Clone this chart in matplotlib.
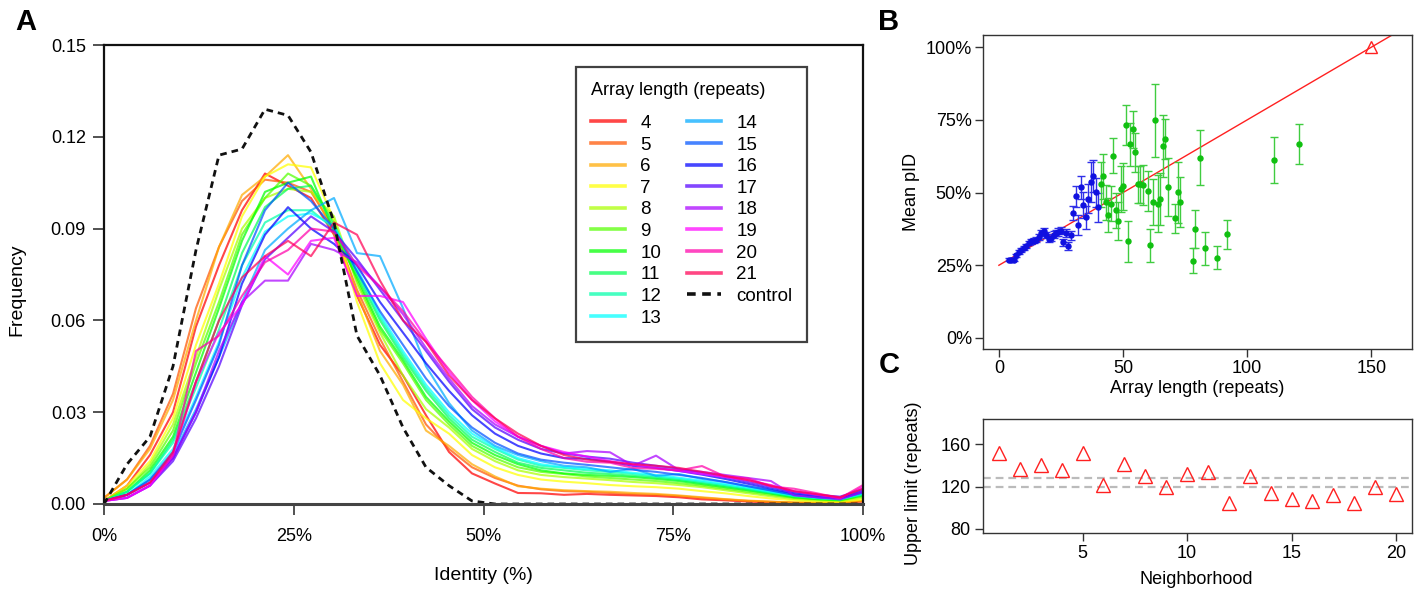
import numpy as np
import matplotlib
matplotlib.use('Agg')
import matplotlib.pyplot as plt
from matplotlib.ticker import FuncFormatter

plt.rcParams['font.family'] = ['Liberation Sans', 'DejaVu Sans']

# ---------------- Panel A data ----------------
identity_bins = np.linspace(0, 100, 34)  # bin positions (% identity)
array_lengths = [4, 5, 6, 7, 8, 9, 10, 11, 12, 13, 14, 15, 16, 17, 18, 19, 20, 21]

f4 = [0.001, 0.006, 0.016, 0.030, 0.058, 0.078, 0.096, 0.108, 0.104, 0.100, 0.088, 0.068, 0.052, 0.042, 0.029, 0.017, 0.010, 0.0067, 0.0036, 0.0035, 0.0030, 0.0033, 0.0030, 0.0028, 0.0026, 0.0022, 0.0015, 0.0012, 0.0008, 0.0005, 0.0003, 0.0003, 0.0004, 0.0008]
f5 = [0.002, 0.008, 0.019, 0.036, 0.064, 0.084, 0.099, 0.106, 0.105, 0.102, 0.090, 0.070, 0.054, 0.040, 0.026, 0.018, 0.012, 0.0085, 0.0060, 0.0048, 0.0042, 0.0040, 0.0036, 0.0032, 0.0030, 0.0026, 0.0020, 0.0015, 0.0010, 0.0007, 0.0005, 0.0004, 0.0004, 0.0010]
f6 = [0.002, 0.008, 0.018, 0.034, 0.060, 0.084, 0.101, 0.107, 0.114, 0.103, 0.089, 0.069, 0.050, 0.039, 0.024, 0.019, 0.013, 0.009, 0.0058, 0.0050, 0.0045, 0.0042, 0.0040, 0.0036, 0.0033, 0.0028, 0.0022, 0.0016, 0.0011, 0.0008, 0.0005, 0.0004, 0.0005, 0.0010]
f7 = [0.001, 0.006, 0.014, 0.028, 0.052, 0.072, 0.094, 0.107, 0.111, 0.110, 0.093, 0.066, 0.046, 0.034, 0.028, 0.023, 0.016, 0.012, 0.0095, 0.0080, 0.0073, 0.0068, 0.0062, 0.0058, 0.0055, 0.0050, 0.0042, 0.0035, 0.0026, 0.0018, 0.0012, 0.0008, 0.0007, 0.0015]
f8 = [0.001, 0.005, 0.013, 0.026, 0.048, 0.070, 0.090, 0.100, 0.103, 0.102, 0.094, 0.072, 0.056, 0.042, 0.031, 0.025, 0.018, 0.014, 0.011, 0.0095, 0.0088, 0.0083, 0.0078, 0.0072, 0.0068, 0.0062, 0.0055, 0.0045, 0.0035, 0.0025, 0.0016, 0.0012, 0.0010, 0.0020]
f9 = [0.001, 0.005, 0.012, 0.024, 0.046, 0.066, 0.088, 0.100, 0.108, 0.104, 0.092, 0.073, 0.057, 0.046, 0.034, 0.026, 0.019, 0.015, 0.012, 0.0105, 0.0098, 0.0090, 0.0085, 0.0080, 0.0075, 0.0068, 0.0060, 0.0050, 0.0040, 0.0030, 0.0020, 0.0015, 0.0012, 0.0025]
f10 = [0.001, 0.004, 0.011, 0.022, 0.043, 0.064, 0.086, 0.102, 0.105, 0.107, 0.089, 0.074, 0.058, 0.047, 0.035, 0.027, 0.020, 0.016, 0.013, 0.011, 0.010, 0.0095, 0.0092, 0.0088, 0.0082, 0.0075, 0.0065, 0.0055, 0.0045, 0.0034, 0.0022, 0.0016, 0.0013, 0.0028]
f11 = [0.001, 0.004, 0.010, 0.021, 0.040, 0.060, 0.082, 0.097, 0.103, 0.104, 0.091, 0.075, 0.060, 0.048, 0.037, 0.028, 0.021, 0.017, 0.0135, 0.0118, 0.0110, 0.0102, 0.0098, 0.0092, 0.0086, 0.0078, 0.0068, 0.0058, 0.0047, 0.0036, 0.0024, 0.0018, 0.0014, 0.0030]
f12 = [0.001, 0.004, 0.010, 0.020, 0.038, 0.057, 0.078, 0.092, 0.096, 0.096, 0.090, 0.076, 0.061, 0.049, 0.038, 0.029, 0.022, 0.018, 0.0145, 0.0125, 0.0118, 0.0110, 0.0105, 0.0098, 0.0090, 0.0082, 0.0072, 0.0062, 0.0050, 0.0038, 0.0026, 0.0019, 0.0015, 0.0032]
f13 = [0.001, 0.003, 0.009, 0.018, 0.035, 0.053, 0.074, 0.089, 0.094, 0.095, 0.091, 0.077, 0.062, 0.050, 0.039, 0.030, 0.023, 0.0185, 0.0150, 0.0130, 0.0120, 0.0115, 0.0110, 0.0102, 0.0095, 0.0086, 0.0076, 0.0065, 0.0053, 0.0040, 0.0028, 0.0020, 0.0016, 0.0034]
f14 = [0.001, 0.003, 0.008, 0.016, 0.031, 0.048, 0.066, 0.083, 0.090, 0.096, 0.100, 0.082, 0.081, 0.064, 0.045, 0.033, 0.024, 0.019, 0.016, 0.014, 0.0125, 0.0120, 0.0105, 0.0115, 0.0092, 0.0098, 0.0082, 0.0072, 0.0058, 0.0045, 0.0030, 0.0022, 0.0018, 0.0036]
f15 = [0.001, 0.003, 0.008, 0.017, 0.034, 0.052, 0.078, 0.096, 0.105, 0.099, 0.090, 0.076, 0.063, 0.052, 0.041, 0.032, 0.025, 0.020, 0.0165, 0.0145, 0.0135, 0.0128, 0.0120, 0.0112, 0.0105, 0.0095, 0.0085, 0.0072, 0.0058, 0.0044, 0.0030, 0.0022, 0.0018, 0.0038]
f16 = [0.001, 0.003, 0.007, 0.015, 0.030, 0.048, 0.072, 0.088, 0.097, 0.090, 0.085, 0.078, 0.066, 0.056, 0.046, 0.037, 0.029, 0.023, 0.019, 0.0165, 0.0150, 0.0148, 0.0138, 0.0125, 0.0118, 0.0108, 0.0096, 0.0082, 0.0066, 0.0050, 0.0035, 0.0026, 0.0020, 0.0042]
f17 = [0.001, 0.002, 0.006, 0.014, 0.028, 0.045, 0.065, 0.080, 0.087, 0.094, 0.089, 0.080, 0.070, 0.060, 0.050, 0.040, 0.031, 0.025, 0.021, 0.018, 0.0165, 0.0155, 0.0148, 0.0135, 0.0125, 0.0115, 0.0102, 0.0088, 0.0072, 0.0056, 0.0040, 0.0030, 0.0024, 0.0048]
f18 = [0.001, 0.002, 0.006, 0.015, 0.030, 0.050, 0.066, 0.073, 0.073, 0.085, 0.083, 0.079, 0.071, 0.062, 0.051, 0.041, 0.032, 0.026, 0.022, 0.019, 0.0165, 0.0173, 0.0169, 0.0125, 0.0158, 0.0111, 0.0105, 0.0095, 0.0085, 0.0075, 0.0028, 0.0022, 0.0015, 0.0040]
f19 = [0.001, 0.002, 0.006, 0.016, 0.040, 0.056, 0.065, 0.081, 0.075, 0.086, 0.087, 0.068, 0.068, 0.066, 0.054, 0.043, 0.034, 0.027, 0.022, 0.019, 0.017, 0.0155, 0.0140, 0.0128, 0.0118, 0.0108, 0.0098, 0.0088, 0.0078, 0.0062, 0.0042, 0.0030, 0.0020, 0.0055]
f20 = [0.001, 0.003, 0.007, 0.016, 0.050, 0.055, 0.068, 0.079, 0.083, 0.090, 0.089, 0.078, 0.071, 0.063, 0.053, 0.044, 0.035, 0.028, 0.022, 0.018, 0.015, 0.0138, 0.0135, 0.0118, 0.0115, 0.0110, 0.0124, 0.0090, 0.0084, 0.0057, 0.0050, 0.0035, 0.0019, 0.0062]
f21 = [0.001, 0.003, 0.007, 0.017, 0.040, 0.060, 0.074, 0.081, 0.086, 0.081, 0.092, 0.088, 0.073, 0.060, 0.053, 0.042, 0.034, 0.028, 0.023, 0.019, 0.016, 0.0145, 0.0138, 0.0130, 0.0125, 0.0118, 0.0105, 0.0092, 0.0078, 0.0060, 0.0042, 0.0032, 0.0022, 0.0050]
control = [0.000, 0.013, 0.022, 0.045, 0.083, 0.114, 0.116, 0.129, 0.127, 0.115, 0.092, 0.055, 0.042, 0.025, 0.012, 0.006, 0.001, 0.000, 0.000, 0.000, 0.000, 0.000, 0.000, 0.000, 0.000, 0.000, 0.000, 0.000, 0.000, 0.000, 0.000, 0.000, 0.000, 0.000]

freqs = [f4, f5, f6, f7, f8, f9, f10, f11, f12, f13, f14, f15, f16, f17, f18, f19, f20, f21]
line_colors = ['#FF0000', '#FF5500', '#FFAA00', '#FFFF00', '#AAFF00', '#55FF00',
               '#00FF00', '#00FF55', '#00FFAA', '#00FFFF', '#00AAFF', '#0055FF',
               '#0000FF', '#5500FF', '#AA00FF', '#FF00FF', '#FF00AA', '#FF0055']

# ---------------- Panel B data ----------------
blue_x = [4, 5, 6, 7, 8, 9, 10, 11, 12, 13, 14, 15, 16, 17, 18, 19, 20, 21, 22, 23, 24, 25, 26, 27, 28, 29, 30, 31, 32, 33, 34, 35, 36, 37, 38, 39, 40]
blue_y = [26.9, 26.7, 26.9, 28.4, 29.5, 30.2, 30.8, 31.6, 32.6, 33.2, 33.5, 33.8, 34.6, 36.1, 36.7, 35.5, 34.0, 34.4, 35.5, 36.1, 36.4, 36.9, 32.9, 36.1, 31.7, 35.3, 43.0, 48.7, 38.9, 51.8, 45.6, 41.5, 47.9, 53.6, 55.8, 50.1, 45.0]
blue_err = [0.5, 0.5, 0.5, 0.6, 0.6, 0.6, 0.7, 0.7, 0.8, 0.8, 0.9, 0.9, 1.0, 1.0, 1.1, 1.1, 1.1, 1.2, 1.2, 1.2, 1.3, 1.3, 1.3, 1.4, 1.4, 1.5, 2.3, 3.5, 3.5, 4.0, 4.5, 4.0, 5.0, 6.9, 5.5, 5.0, 5.0]
green_x = [41, 42, 43, 44, 45, 46, 47, 48, 49, 50, 51, 52, 53, 54, 55, 56, 57, 58, 60, 61, 62, 63, 64, 65, 66, 67, 68, 71, 72, 73, 78, 79, 81, 83, 88, 92, 111, 121]
green_y = [52.9, 55.6, 46.6, 42.3, 46.2, 62.7, 43.9, 40.3, 51.3, 52.1, 73.2, 33.2, 66.6, 71.7, 63.9, 52.8, 52.8, 52.6, 50.5, 31.8, 46.8, 74.8, 46.2, 47.9, 66.0, 68.4, 51.8, 41.1, 50.1, 46.8, 26.6, 37.5, 62.0, 30.8, 27.6, 35.7, 61.2, 66.7]
green_err = [7.7, 7.7, 6.0, 6.0, 6.0, 6.0, 6.0, 6.5, 8.0, 8.0, 7.0, 7.0, 7.3, 6.4, 6.7, 6.5, 6.5, 6.8, 7.0, 5.8, 8.0, 12.6, 9.7, 9.0, 10.6, 7.0, 10.0, 5.0, 10.5, 8.6, 4.4, 6.6, 9.5, 5.7, 4.0, 5.0, 8.0, 7.0]
fit_x = [0, 160]
fit_y = [25, 105]
limit_x = [150]
limit_y = [100]

# ---------------- Panel C data ----------------
neighborhood = [1, 2, 3, 4, 5, 6, 7, 8, 9, 10, 11, 12, 13, 14, 15, 16, 17, 18, 19, 20]
upper_limit = [152, 137, 140, 136, 152, 121, 141, 130, 120, 132, 134, 104, 130, 114, 108, 106, 112, 104, 120, 113]
ref_lines = [128, 120]

W, H = 1421, 590
fig = plt.figure(figsize=(W / 100, H / 100), dpi=100)

def box(l, t, r, b):
    return [l / W, 1 - b / H, (r - l) / W, (b - t) / H]

FS = 13

# ---------------- Panel A ----------------
axA = fig.add_axes(box(104, 45, 863, 504))
for L, vals, c in zip(array_lengths, freqs, line_colors):
    axA.plot(identity_bins, vals, color=c, alpha=0.72, lw=1.5, label=str(L))
axA.plot(identity_bins, control, color='#111111', lw=2.0, ls=(0, (2.4, 1.8)), label='control')
axA.set_xlim(0, 100)
axA.set_ylim(0, 0.15)
axA.set_xticks([0, 25, 50, 75, 100])
axA.xaxis.set_major_formatter(FuncFormatter(lambda v, p: f"{int(v)}%"))
axA.set_yticks([0, 0.03, 0.06, 0.09, 0.12, 0.15])
axA.yaxis.set_major_formatter(FuncFormatter(lambda v, p: f"{v:.2f}"))
axA.tick_params(axis='both', direction='out', length=8, width=1.2, labelsize=FS, color='#333333')
axA.tick_params(axis='x', pad=9)
axA.tick_params(axis='y', pad=5)
for s in ['left', 'top', 'right']:
    axA.spines[s].set_color('#111111')
    axA.spines[s].set_linewidth(1.6)
axA.spines['bottom'].set_color('#444444')
axA.spines['bottom'].set_linewidth(2.2)
leg = axA.legend(ncol=2, loc='upper left', bbox_to_anchor=(0.6215, 0.951), borderaxespad=0,
                 fontsize=FS + 0.5,
                 title='Array length (repeats)', title_fontsize=FS, alignment='left',
                 handlelength=1.85, handletextpad=0.8, columnspacing=1.35, labelspacing=0.24,
                 borderpad=0.8, fancybox=False, frameon=True)
leg._legend_box.sep = 11
leg.get_frame().set_edgecolor('#111111')
leg.get_frame().set_linewidth(1.6)
for h in leg.get_lines():
    h.set_linewidth(2.6)
fig.text(17 / W, 1 - 290 / H, 'Frequency', rotation=90, ha='center', va='center', fontsize=FS + 1)
fig.text(483 / W, 1 - 576 / H, 'Identity (%)', ha='center', va='center', fontsize=FS + 1)
fig.text(26 / W, 1 - 22 / H, 'A', ha='center', va='center', fontsize=21, fontweight='bold')

# ---------------- Panel B ----------------
axB = fig.add_axes(box(983, 35, 1412, 349))
axB.plot(fit_x, fit_y, color='#FF2020', lw=1.0, zorder=2)
axB.errorbar(blue_x, blue_y, yerr=blue_err, fmt='o', color='#1010E0', ms=3.6,
             ecolor='#3030E8', elinewidth=1.0, capsize=3, capthick=1.0, zorder=3)
axB.errorbar(green_x, green_y, yerr=green_err, fmt='o', color='#10C010', ms=3.6,
             ecolor='#40CC40', elinewidth=1.0, capsize=3, capthick=1.0, zorder=3)
axB.plot(limit_x, limit_y, marker='^', ms=9, mfc='none', mec='#FF2020', mew=1.0, ls='none', zorder=4)
axB.set_xlim(-6.4, 166.4)
axB.set_ylim(-3.8, 104.2)
axB.set_xticks([0, 50, 100, 150])
axB.set_yticks([0, 25, 50, 75, 100])
axB.yaxis.set_major_formatter(FuncFormatter(lambda v, p: f"{int(v)}%"))
axB.tick_params(axis='both', direction='out', length=6, width=1.0, labelsize=FS, color='#333333')
axB.tick_params(axis='x', pad=2)
axB.tick_params(axis='y', pad=2)
for s in axB.spines.values():
    s.set_color('#333333')
    s.set_linewidth(1.0)
axB.set_xlabel('Array length (repeats)', fontsize=FS, labelpad=2)
fig.text(911 / W, 1 - 192 / H, 'Mean pID', rotation=90, ha='center', va='center', fontsize=FS)
fig.text(889 / W, 1 - 22 / H, 'B', ha='center', va='center', fontsize=21, fontweight='bold')

# ---------------- Panel C ----------------
axC = fig.add_axes(box(983, 419, 1412, 533))
for yv in ref_lines:
    axC.axhline(yv, color='#BBBBBB', lw=1.6, ls=(0, (3.5, 2.2)), zorder=1)
axC.plot(neighborhood, upper_limit, marker='^', ms=10, mfc='none', mec='#FF2020', mew=1.0, ls='none', zorder=3)
axC.set_xlim(0.24, 20.76)
axC.set_ylim(76, 184)
axC.set_xticks([5, 10, 15, 20])
axC.set_yticks([80, 120, 160])
axC.tick_params(axis='both', direction='out', length=6, width=1.0, labelsize=FS, color='#333333')
axC.tick_params(axis='x', pad=3)
axC.tick_params(axis='y', pad=3)
for s in axC.spines.values():
    s.set_color('#333333')
    s.set_linewidth(1.0)
fig.text(1196 / W, 1 - 580 / H, 'Neighborhood', ha='center', va='center', fontsize=FS)
fig.text(913 / W, 1 - 483 / H, 'Upper limit (repeats)', rotation=90, ha='center', va='center', fontsize=FS)
fig.text(889 / W, 1 - 365 / H, 'C', ha='center', va='center', fontsize=21, fontweight='bold')

fig.savefig('out.png', dpi=100)
